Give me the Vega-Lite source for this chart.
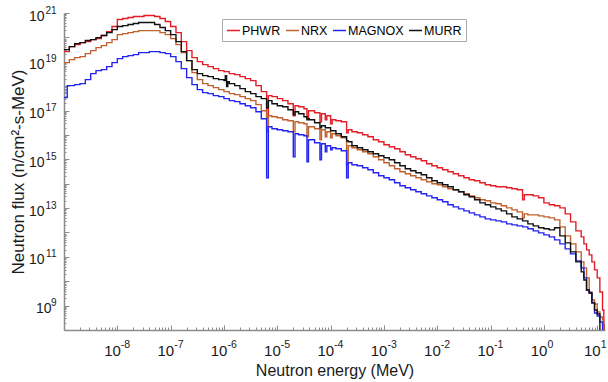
{
  "$schema": "https://vega.github.io/schema/vega-lite/v6.json",
  "width": 541,
  "height": 317,
  "autosize": {"type": "none"},
  "padding": {"left": 64, "top": 13, "right": 3, "bottom": 52},
  "background": "white",
  "config": {
    "font": "Liberation Sans",
    "view": {"stroke": null},
    "axis": {"grid": false, "labelOverlap": false, "labelFlush": false, "labelColor": "#1a1a1a", "titleColor": "#1a1a1a", "titleFontWeight": "normal", "titleFont": "Liberation Sans", "labelFont": "Liberation Sans"}
  },
  "datasets": {
    "d": [
      {"e": 1e-9, "PHWR": 2.61e19, "NRX": 9.22e18, "MAGNOX": 3.38e17, "MURR": 3.15e19},
      {"e": 1.15e-9, "PHWR": 2.61e19, "NRX": 9.22e18, "MAGNOX": 1.05e18, "MURR": 3.15e19},
      {"e": 1.259e-9, "PHWR": 4.19e19, "NRX": 1.22e19, "MAGNOX": 1.05e18, "MURR": 4.19e19},
      {"e": 1.585e-9, "PHWR": 5.06e19, "NRX": 1.48e19, "MAGNOX": 1.15e18, "MURR": 5.56e19},
      {"e": 1.995e-9, "PHWR": 6.12e19, "NRX": 1.63e19, "MAGNOX": 1.27e18, "MURR": 6.12e19},
      {"e": 2.512e-9, "PHWR": 6.73e19, "NRX": 2.16e19, "MAGNOX": 1.85e18, "MURR": 7.4e19},
      {"e": 3.162e-9, "PHWR": 8.13e19, "NRX": 2.87e19, "MAGNOX": 3.26e18, "MURR": 8.13e19},
      {"e": 3.981e-9, "PHWR": 8.93e19, "NRX": 3.81e19, "MAGNOX": 4.34e18, "MURR": 9.82e19},
      {"e": 5.012e-9, "PHWR": 1.19e20, "NRX": 4.6e19, "MAGNOX": 4.76e18, "MURR": 1.19e20},
      {"e": 6.31e-9, "PHWR": 1.73e20, "NRX": 6.12e19, "MAGNOX": 6.32e18, "MURR": 1.57e20},
      {"e": 7.943e-9, "PHWR": 2.78e20, "NRX": 8.13e19, "MAGNOX": 9.22e18, "MURR": 2.09e20},
      {"e": 1e-8, "PHWR": 5.38e20, "NRX": 1.3e20, "MAGNOX": 1.35e19, "MURR": 2.78e20},
      {"e": 1.259e-8, "PHWR": 5.92e20, "NRX": 1.43e20, "MAGNOX": 1.63e19, "MURR": 3.05e20},
      {"e": 1.585e-8, "PHWR": 6.5e20, "NRX": 1.57e20, "MAGNOX": 1.79e19, "MURR": 3.36e20},
      {"e": 1.995e-8, "PHWR": 7.15e20, "NRX": 1.73e20, "MAGNOX": 1.97e19, "MURR": 3.69e20},
      {"e": 2.512e-8, "PHWR": 7.15e20, "NRX": 1.9e20, "MAGNOX": 2.38e19, "MURR": 4.06e20},
      {"e": 3.162e-8, "PHWR": 7.85e20, "NRX": 1.9e20, "MAGNOX": 2.38e19, "MURR": 4.06e20},
      {"e": 3.981e-8, "PHWR": 7.85e20, "NRX": 1.9e20, "MAGNOX": 2.61e19, "MURR": 4.06e20},
      {"e": 5.012e-8, "PHWR": 7.15e20, "NRX": 1.9e20, "MAGNOX": 2.61e19, "MURR": 3.36e20},
      {"e": 6.31e-8, "PHWR": 5.92e20, "NRX": 1.57e20, "MAGNOX": 2.38e19, "MURR": 2.53e20},
      {"e": 7.943e-8, "PHWR": 4.46e20, "NRX": 1.3e20, "MAGNOX": 2.16e19, "MURR": 1.9e20},
      {"e": 1e-7, "PHWR": 2.78e20, "NRX": 8.93e19, "MAGNOX": 1.63e19, "MURR": 1.3e20},
      {"e": 1.259e-7, "PHWR": 1.57e20, "NRX": 5.06e19, "MAGNOX": 1.01e19, "MURR": 6.73e19},
      {"e": 1.585e-7, "PHWR": 6.73e19, "NRX": 2.38e19, "MAGNOX": 5.24e18, "MURR": 2.61e19},
      {"e": 1.995e-7, "PHWR": 2.87e19, "NRX": 1.11e19, "MAGNOX": 2.23e18, "MURR": 1.11e19},
      {"e": 2.512e-7, "PHWR": 1.48e19, "NRX": 3.58e18, "MAGNOX": 1.15e18, "MURR": 4.76e18},
      {"e": 3.162e-7, "PHWR": 1.01e19, "NRX": 1.85e18, "MAGNOX": 7.18e17, "MURR": 3.26e18},
      {"e": 3.981e-7, "PHWR": 7.64e18, "NRX": 1.27e18, "MAGNOX": 5.41e17, "MURR": 2.7e18},
      {"e": 5.012e-7, "PHWR": 6.32e18, "NRX": 1.05e18, "MAGNOX": 4.92e17, "MURR": 2.45e18},
      {"e": 6.31e-7, "PHWR": 5.24e18, "NRX": 8.68e17, "MAGNOX": 4.07e17, "MURR": 2.03e18},
      {"e": 7.943e-7, "PHWR": 4.34e18, "NRX": 7.18e17, "MAGNOX": 3.71e17, "MURR": 1.85e18},
      {"e": 1e-6, "PHWR": 3.94e18, "NRX": 5.94e17, "MAGNOX": 3.07e17, "MURR": 1.68e18},
      {"e": 1.06e-6, "PHWR": 3.94e18, "NRX": 5.94e17, "MAGNOX": 3.07e17, "MURR": 2.7e18},
      {"e": 1.12e-6, "PHWR": 3.94e18, "NRX": 5.94e17, "MAGNOX": 3.07e17, "MURR": 9.53e17},
      {"e": 1.18e-6, "PHWR": 3.94e18, "NRX": 5.94e17, "MAGNOX": 3.07e17, "MURR": 1.53e18},
      {"e": 1.259e-6, "PHWR": 3.26e18, "NRX": 4.92e17, "MAGNOX": 2.54e17, "MURR": 1.27e18},
      {"e": 1.585e-6, "PHWR": 2.97e18, "NRX": 4.48e17, "MAGNOX": 2.31e17, "MURR": 1.05e18},
      {"e": 1.995e-6, "PHWR": 2.45e18, "NRX": 3.71e17, "MAGNOX": 1.91e17, "MURR": 7.89e17},
      {"e": 2.512e-6, "PHWR": 2.03e18, "NRX": 3.07e17, "MAGNOX": 1.58e17, "MURR": 5.94e17},
      {"e": 3.162e-6, "PHWR": 1.68e18, "NRX": 2.54e17, "MAGNOX": 1.31e17, "MURR": 4.92e17},
      {"e": 3.981e-6, "PHWR": 1.05e18, "NRX": 1.74e17, "MAGNOX": 8.98e16, "MURR": 3.71e17},
      {"e": 5.012e-6, "PHWR": 5.94e17, "NRX": 9.86e16, "MAGNOX": 4.62e16, "MURR": 3.07e17},
      {"e": 6.31e-6, "PHWR": 5.08e16, "NRX": 1.35e16, "MAGNOX": 1.75e14, "MURR": 1.31e17},
      {"e": 6.8e-6, "PHWR": 4.07e17, "NRX": 6.15e16, "MAGNOX": 2.17e16, "MURR": 2.54e17},
      {"e": 7.943e-6, "PHWR": 3.71e17, "NRX": 5.59e16, "MAGNOX": 1.8e16, "MURR": 1.91e17},
      {"e": 1e-5, "PHWR": 3.07e17, "NRX": 5.08e16, "MAGNOX": 1.64e16, "MURR": 1.58e17},
      {"e": 1.259e-5, "PHWR": 2.54e17, "NRX": 4.21e16, "MAGNOX": 1.49e16, "MURR": 1.44e17},
      {"e": 1.585e-5, "PHWR": 1.91e17, "NRX": 3.83e16, "MAGNOX": 1.35e16, "MURR": 1.08e17},
      {"e": 1.995e-5, "PHWR": 6.15e16, "NRX": 1.35e16, "MAGNOX": 1.27e15, "MURR": 6.76e16},
      {"e": 2.15e-5, "PHWR": 1.58e17, "NRX": 3.48e16, "MAGNOX": 1.12e16, "MURR": 8.98e16},
      {"e": 2.512e-5, "PHWR": 1.44e17, "NRX": 3.17e16, "MAGNOX": 1.02e16, "MURR": 7.43e16},
      {"e": 3.162e-5, "PHWR": 1.19e17, "NRX": 2.88e16, "MAGNOX": 9.27e15, "MURR": 5.59e16},
      {"e": 3.6e-5, "PHWR": 5.08e16, "NRX": 8.43e15, "MAGNOX": 7.93e14, "MURR": 4.21e16},
      {"e": 3.85e-5, "PHWR": 9.86e16, "NRX": 2.17e16, "MAGNOX": 6.35e15, "MURR": 4.62e16},
      {"e": 3.981e-5, "PHWR": 9.86e16, "NRX": 2.17e16, "MAGNOX": 6.35e15, "MURR": 4.21e16},
      {"e": 5.012e-5, "PHWR": 8.17e16, "NRX": 1.8e16, "MAGNOX": 4.79e15, "MURR": 3.17e16},
      {"e": 6.31e-5, "PHWR": 3.48e16, "NRX": 6.35e15, "MAGNOX": 9.59e14, "MURR": 1.98e16},
      {"e": 6.75e-5, "PHWR": 7.43e16, "NRX": 1.64e16, "MAGNOX": 4.36e15, "MURR": 2.39e16},
      {"e": 7.943e-5, "PHWR": 4.21e16, "NRX": 8.43e15, "MAGNOX": 2.04e15, "MURR": 1.98e16},
      {"e": 8.5e-5, "PHWR": 6.15e16, "NRX": 1.35e16, "MAGNOX": 3.6e15, "MURR": 1.98e16},
      {"e": 1e-4, "PHWR": 2.88e16, "NRX": 7.67e15, "MAGNOX": 2.47e15, "MURR": 1.49e16},
      {"e": 1.07e-4, "PHWR": 4.21e16, "NRX": 1.12e16, "MAGNOX": 2.98e15, "MURR": 1.49e16},
      {"e": 1.259e-4, "PHWR": 3.83e16, "NRX": 9.27e15, "MAGNOX": 2.71e15, "MURR": 1.12e16},
      {"e": 1.585e-4, "PHWR": 3.48e16, "NRX": 7.67e15, "MAGNOX": 2.24e15, "MURR": 8.43e15},
      {"e": 1.995e-4, "PHWR": 1.23e16, "NRX": 5.97e14, "MAGNOX": 1.75e14, "MURR": 5.78e15},
      {"e": 2.14e-4, "PHWR": 1.64e16, "NRX": 3.6e15, "MAGNOX": 7.21e14, "MURR": 5.26e15},
      {"e": 2.512e-4, "PHWR": 1.35e16, "NRX": 2.98e15, "MAGNOX": 5.97e14, "MURR": 3.6e15},
      {"e": 3.162e-4, "PHWR": 1.23e16, "NRX": 2.47e15, "MAGNOX": 5.43e14, "MURR": 2.98e15},
      {"e": 3.981e-4, "PHWR": 1.02e16, "NRX": 2.04e15, "MAGNOX": 4.5e14, "MURR": 2.47e15},
      {"e": 5.012e-4, "PHWR": 8.43e15, "NRX": 1.69e15, "MAGNOX": 3.72e14, "MURR": 2.04e15},
      {"e": 6.31e-4, "PHWR": 6.35e15, "NRX": 1.27e15, "MAGNOX": 2.81e14, "MURR": 1.69e15},
      {"e": 7.943e-4, "PHWR": 5.26e15, "NRX": 9.59e14, "MAGNOX": 2.11e14, "MURR": 1.4e15},
      {"e": 1e-3, "PHWR": 3.96e15, "NRX": 7.21e14, "MAGNOX": 1.75e14, "MURR": 1.16e15},
      {"e": 1.259e-3, "PHWR": 3.28e15, "NRX": 5.43e14, "MAGNOX": 1.45e14, "MURR": 9.59e14},
      {"e": 1.585e-3, "PHWR": 2.71e15, "NRX": 4.09e14, "MAGNOX": 1.09e14, "MURR": 7.21e14},
      {"e": 1.995e-3, "PHWR": 2.04e15, "NRX": 3.08e14, "MAGNOX": 8.2e13, "MURR": 5.43e14},
      {"e": 2.512e-3, "PHWR": 1.54e15, "NRX": 2.55e14, "MAGNOX": 6.79e13, "MURR": 4.09e14},
      {"e": 3.162e-3, "PHWR": 1.27e15, "NRX": 2.11e14, "MAGNOX": 5.62e13, "MURR": 3.39e14},
      {"e": 3.981e-3, "PHWR": 1.05e15, "NRX": 1.75e14, "MAGNOX": 4.65e13, "MURR": 2.81e14},
      {"e": 5.012e-3, "PHWR": 8.72e14, "NRX": 1.45e14, "MAGNOX": 3.85e13, "MURR": 2.32e14},
      {"e": 6.31e-3, "PHWR": 6.56e14, "NRX": 1.2e14, "MAGNOX": 3.18e13, "MURR": 1.75e14},
      {"e": 7.943e-3, "PHWR": 5.43e14, "NRX": 9.91e13, "MAGNOX": 2.64e13, "MURR": 1.32e14},
      {"e": 1e-2, "PHWR": 4.5e14, "NRX": 9.02e13, "MAGNOX": 2.18e13, "MURR": 1.09e14},
      {"e": 1.259e-2, "PHWR": 3.72e14, "NRX": 7.46e13, "MAGNOX": 1.81e13, "MURR": 9.02e13},
      {"e": 1.585e-2, "PHWR": 3.08e14, "NRX": 6.18e13, "MAGNOX": 1.36e13, "MURR": 7.46e13},
      {"e": 1.995e-2, "PHWR": 2.55e14, "NRX": 5.62e13, "MAGNOX": 1.12e13, "MURR": 5.62e13},
      {"e": 2.512e-2, "PHWR": 2.11e14, "NRX": 4.65e13, "MAGNOX": 9.31e12, "MURR": 4.65e13},
      {"e": 3.162e-2, "PHWR": 1.75e14, "NRX": 3.85e13, "MAGNOX": 7.71e12, "MURR": 3.5e13},
      {"e": 3.981e-2, "PHWR": 1.45e14, "NRX": 3.18e13, "MAGNOX": 6.38e12, "MURR": 2.9e13},
      {"e": 5.012e-2, "PHWR": 1.32e14, "NRX": 2.64e13, "MAGNOX": 5.28e12, "MURR": 2.18e13},
      {"e": 6.31e-2, "PHWR": 1.09e14, "NRX": 2.18e13, "MAGNOX": 4.37e12, "MURR": 1.64e13},
      {"e": 7.943e-2, "PHWR": 9.02e13, "NRX": 1.99e13, "MAGNOX": 3.62e12, "MURR": 1.36e13},
      {"e": 0.1, "PHWR": 8.2e13, "NRX": 1.64e13, "MAGNOX": 3.29e12, "MURR": 1.12e13},
      {"e": 0.1259, "PHWR": 7.46e13, "NRX": 1.5e13, "MAGNOX": 3.0e12, "MURR": 9.31e12},
      {"e": 0.1585, "PHWR": 7.46e13, "NRX": 1.24e13, "MAGNOX": 2.72e12, "MURR": 7.71e12},
      {"e": 0.1995, "PHWR": 6.79e13, "NRX": 1.02e13, "MAGNOX": 2.26e12, "MURR": 5.81e12},
      {"e": 0.2512, "PHWR": 6.18e13, "NRX": 8.47e12, "MAGNOX": 2.05e12, "MURR": 4.37e12},
      {"e": 0.3162, "PHWR": 5.62e13, "NRX": 7.01e12, "MAGNOX": 1.87e12, "MURR": 3.62e12},
      {"e": 0.3981, "PHWR": 2.18e13, "NRX": 3.98e12, "MAGNOX": 1.7e12, "MURR": 3.0e12},
      {"e": 0.43, "PHWR": 3.5e13, "NRX": 5.81e12, "MAGNOX": 1.7e12, "MURR": 3.0e12},
      {"e": 0.5012, "PHWR": 3.5e13, "NRX": 5.28e12, "MAGNOX": 1.41e12, "MURR": 2.26e12},
      {"e": 0.631, "PHWR": 3.18e13, "NRX": 5.28e12, "MAGNOX": 1.16e12, "MURR": 1.87e12},
      {"e": 0.7943, "PHWR": 2.64e13, "NRX": 4.81e12, "MAGNOX": 9.64e11, "MURR": 1.55e12},
      {"e": 1.0, "PHWR": 1.64e13, "NRX": 4.37e12, "MAGNOX": 7.97e11, "MURR": 1.41e12},
      {"e": 1.259, "PHWR": 1.36e13, "NRX": 3.98e12, "MAGNOX": 6.6e11, "MURR": 1.28e12},
      {"e": 1.585, "PHWR": 1.24e13, "NRX": 3.29e12, "MAGNOX": 4.97e11, "MURR": 1.55e12},
      {"e": 1.995, "PHWR": 1.02e13, "NRX": 1.7e12, "MAGNOX": 3.4e11, "MURR": 7.24e11},
      {"e": 2.512, "PHWR": 5.81e12, "NRX": 7.24e11, "MAGNOX": 2.12e11, "MURR": 3.74e11},
      {"e": 3.162, "PHWR": 2.72e12, "NRX": 3.4e11, "MAGNOX": 1.32e11, "MURR": 1.6e11},
      {"e": 3.981, "PHWR": 1.16e12, "NRX": 1.6e11, "MAGNOX": 6.82e10, "MURR": 6.21e10},
      {"e": 5.012, "PHWR": 6.6e11, "NRX": 6.21e10, "MAGNOX": 3.52e10, "MURR": 2.41e10},
      {"e": 5.623, "PHWR": 3.4e11, "NRX": 3.52e10, "MAGNOX": 1.37e10, "MURR": 1.13e10},
      {"e": 6.31, "PHWR": 1.93e11, "NRX": 1.37e10, "MAGNOX": 4.39e9, "MURR": 4.39e9},
      {"e": 7.079, "PHWR": 1.2e11, "NRX": 3.64e9, "MAGNOX": 3.31e9, "MURR": 3.31e9},
      {"e": 7.943, "PHWR": 6.21e10, "NRX": 1.71e9, "MAGNOX": 1.29e9, "MURR": 1.29e9},
      {"e": 8.913, "PHWR": 2.91e10, "NRX": 1.17e9, "MAGNOX": 4.99e8, "MURR": 6.63e8},
      {"e": 10.0, "PHWR": 1.37e10, "NRX": 5.49e8, "MAGNOX": 3.76e8, "MURR": 4.54e8},
      {"e": 11.22, "PHWR": 3.64e9, "NRX": 3.42e8, "MAGNOX": 2.13e8, "MURR": 5e7},
      {"e": 12.59, "PHWR": 6.63e8, "NRX": 2.58e8, "MAGNOX": 5e7, "MURR": 5e7},
      {"e": 13.3, "PHWR": 1.6e8, "NRX": 5e7, "MAGNOX": 5e7, "MURR": 5e7},
      {"e": 13.8, "PHWR": 5e7, "NRX": 5e7, "MAGNOX": 5e7, "MURR": 5e7}
    ]
  },
  "resolve": {"axis": {"x": "independent", "y": "independent"}},
  "layer": [
    {
      "data": {"name": "d"},
      "transform": [{"fold": ["PHWR", "NRX", "MAGNOX", "MURR"], "as": ["series", "flux"]}],
      "mark": {"type": "line", "interpolate": "step-after", "strokeWidth": 1.4, "clip": true},
      "encoding": {
        "x": {
          "field": "e", "type": "quantitative",
          "scale": {"type": "log", "domain": [1e-9, 14], "nice": false},
          "axis": {
            "orient": "bottom", "title": "Neutron energy (MeV)", "titleFontSize": 16, "titlePadding": 4,
            "values": [1e-8, 1e-7, 1e-6, 1e-5, 1e-4, 1e-3, 1e-2, 1e-1, 1, 10],
            "labelExpr": "'10'", "ticks": false, "domainColor": "#8c8c8c", "domainWidth": 1.5,
            "labelFontSize": 15, "labelAlign": "right", "labelOffset": 3, "labelPadding": 13, "labelBaseline": "top"
          }
        },
        "y": {
          "field": "flux", "type": "quantitative",
          "scale": {"type": "log", "domain": [1e8, 1e21], "nice": false},
          "axis": {
            "orient": "left", "title": "Neutron flux (n/cm²-s-MeV)", "titleFontSize": 17, "titlePadding": 1,
            "values": [1e9, 1e11, 1e13, 1e15, 1e17, 1e19, 1e21],
            "labelExpr": "'10'", "ticks": false, "domainColor": "#8c8c8c", "domainWidth": 1.5,
            "labelFontSize": 14, "labelAlign": "right", "labelBaseline": "middle", "labelOffset": 3,
            "labelPadding": {"condition": {"test": "datum.value < 1e10", "value": 13}, "value": 20}
          }
        },
        "color": {
          "field": "series", "type": "nominal",
          "scale": {"domain": ["PHWR", "NRX", "MAGNOX", "MURR"], "range": ["#e41e26", "#c0622f", "#2424f0", "#111111"]},
          "legend": {
            "orient": "none", "legendX": 158, "legendY": 6, "direction": "horizontal", "columns": 4, "title": null,
            "symbolType": "stroke", "symbolSize": 169, "symbolStrokeWidth": 1.5,
            "labelFontSize": 12.5, "labelColor": "#000000", "labelOffset": 1, "columnPadding": 2,
            "strokeColor": "#aaaaaa", "fillColor": "white", "padding": 4
          }
        }
      }
    },
    {
      "data": {"values": [{"e": 1, "f": 1e10}]},
      "mark": {"type": "point", "opacity": 0},
      "encoding": {
        "x": {
          "field": "e", "type": "quantitative",
          "scale": {"type": "log", "domain": [1e-9, 14], "nice": false},
          "axis": {
            "orient": "bottom", "title": null, "domain": false, "ticks": false,
            "values": [1e-8, 1e-7, 1e-6, 1e-5, 1e-4, 1e-3, 1e-2, 1e-1, 1, 10],
            "labelExpr": "(round(log(datum.value)/LN10) < 0 ? '-' : '') + abs(round(log(datum.value)/LN10))",
            "labelFontSize": 10.5, "labelAlign": "left", "labelOffset": 3, "labelPadding": 9, "labelBaseline": "top"
          }
        },
        "y": {
          "field": "f", "type": "quantitative",
          "scale": {"type": "log", "domain": [1e8, 1e21], "nice": false},
          "axis": {
            "orient": "left", "title": null, "domain": false, "ticks": false,
            "values": [1e9, 1e11, 1e13, 1e15, 1e17, 1e19, 1e21],
            "labelExpr": "'' + round(log(datum.value)/LN10)",
            "labelFontSize": 10, "labelAlign": "right", "labelBaseline": "middle", "labelOffset": -3, "labelPadding": 8
          }
        }
      }
    },
    {
      "data": {"values": [{"e": 1, "f": 1e10}]},
      "mark": {"type": "point", "opacity": 0},
      "encoding": {
        "x": {
          "field": "e", "type": "quantitative",
          "scale": {"type": "log", "domain": [1e-9, 14], "nice": false},
          "axis": {
            "orient": "bottom", "title": null, "domain": false, "labels": false,
            "values": [1e-8, 1e-7, 1e-6, 1e-5, 1e-4, 1e-3, 1e-2, 1e-1, 1, 10],
            "ticks": true, "tickSize": -5, "tickColor": "#8c8c8c", "tickWidth": 1
          }
        },
        "y": {
          "field": "f", "type": "quantitative",
          "scale": {"type": "log", "domain": [1e8, 1e21], "nice": false},
          "axis": {
            "orient": "left", "title": null, "domain": false, "labels": false,
            "values": [1e8, 1e9, 1e10, 1e11, 1e12, 1e13, 1e14, 1e15, 1e16, 1e17, 1e18, 1e19, 1e20, 1e21],
            "ticks": true, "tickSize": -5, "tickColor": "#8c8c8c", "tickWidth": 1
          }
        }
      }
    },
    {
      "data": {"values": [{"e": 1, "f": 1e10}]},
      "mark": {"type": "point", "opacity": 0},
      "encoding": {
        "x": {
          "field": "e", "type": "quantitative",
          "scale": {"type": "log", "domain": [1e-9, 14], "nice": false},
          "axis": {
            "orient": "bottom", "title": null, "domain": false, "labels": false,
            "values": [2e-9, 3e-9, 4e-9, 5e-9, 6e-9, 7e-9, 8e-9, 9e-9,
                       2e-8, 3e-8, 4e-8, 5e-8, 6e-8, 7e-8, 8e-8, 9e-8,
                       2e-7, 3e-7, 4e-7, 5e-7, 6e-7, 7e-7, 8e-7, 9e-7,
                       2e-6, 3e-6, 4e-6, 5e-6, 6e-6, 7e-6, 8e-6, 9e-6,
                       2e-5, 3e-5, 4e-5, 5e-5, 6e-5, 7e-5, 8e-5, 9e-5,
                       2e-4, 3e-4, 4e-4, 5e-4, 6e-4, 7e-4, 8e-4, 9e-4,
                       2e-3, 3e-3, 4e-3, 5e-3, 6e-3, 7e-3, 8e-3, 9e-3,
                       2e-2, 3e-2, 4e-2, 5e-2, 6e-2, 7e-2, 8e-2, 9e-2,
                       0.2, 0.3, 0.4, 0.5, 0.6, 0.7, 0.8, 0.9,
                       2, 3, 4, 5, 6, 7, 8, 9],
            "ticks": true, "tickSize": -3, "tickColor": "#8c8c8c", "tickWidth": 1
          }
        },
        "y": {
          "field": "f", "type": "quantitative",
          "scale": {"type": "log", "domain": [1e8, 1e21], "nice": false},
          "axis": {
            "orient": "left", "title": null, "domain": false, "labels": false,
            "values": [2e8, 3e8, 4e8, 5e8, 6e8, 7e8, 8e8, 9e8,
                       2e9, 3e9, 4e9, 5e9, 6e9, 7e9, 8e9, 9e9,
                       2e10, 3e10, 4e10, 5e10, 6e10, 7e10, 8e10, 9e10,
                       2e11, 3e11, 4e11, 5e11, 6e11, 7e11, 8e11, 9e11,
                       2e12, 3e12, 4e12, 5e12, 6e12, 7e12, 8e12, 9e12,
                       2e13, 3e13, 4e13, 5e13, 6e13, 7e13, 8e13, 9e13,
                       2e14, 3e14, 4e14, 5e14, 6e14, 7e14, 8e14, 9e14,
                       2e15, 3e15, 4e15, 5e15, 6e15, 7e15, 8e15, 9e15,
                       2e16, 3e16, 4e16, 5e16, 6e16, 7e16, 8e16, 9e16,
                       2e17, 3e17, 4e17, 5e17, 6e17, 7e17, 8e17, 9e17,
                       2e18, 3e18, 4e18, 5e18, 6e18, 7e18, 8e18, 9e18,
                       2e19, 3e19, 4e19, 5e19, 6e19, 7e19, 8e19, 9e19,
                       2e20, 3e20, 4e20, 5e20, 6e20, 7e20, 8e20, 9e20],
            "ticks": true, "tickSize": -2, "tickColor": "#8c8c8c", "tickWidth": 1
          }
        }
      }
    }
  ]
}
